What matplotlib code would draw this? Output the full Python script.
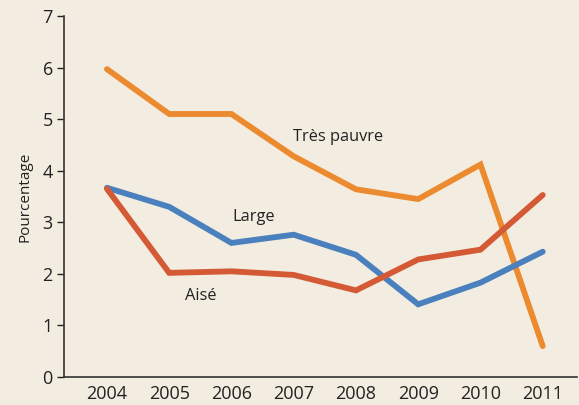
import matplotlib.pyplot as plt

years = [2004, 2005, 2006, 2007, 2008, 2009, 2010, 2011]
tres_pauvre = [5.97, 5.1, 5.1, 4.28, 3.64, 3.45, 4.12, 0.6]
large = [3.67, 3.3, 2.6, 2.76, 2.37, 1.41, 1.83, 2.43]
aise = [3.65, 2.02, 2.05, 1.98, 1.68, 2.28, 2.47, 3.53]

bg = "#f3ede1"
plt.rcParams['font.family'] = ['Open Sans', 'DejaVu Sans']

fig = plt.figure(figsize=(5.79, 4.05), dpi=100)
fig.patch.set_facecolor(bg)
ax = fig.add_axes([0.1105, 0.069, 0.886, 0.8915])
ax.set_facecolor(bg)

lw = 4.2
ax.plot(years, tres_pauvre, color="#ec8a2f", lw=lw, solid_capstyle="round", solid_joinstyle="miter")
ax.plot(years, large, color="#4a80bd", lw=lw, solid_capstyle="round", solid_joinstyle="miter")
ax.plot(years, aise, color="#d45a35", lw=lw, solid_capstyle="round", solid_joinstyle="miter")

ax.text(2006.99, 4.65, "Très pauvre", fontsize=11.8, color="#222222", ha="left", va="center")
ax.text(2006.02, 3.1, "Large", fontsize=11.8, color="#222222", ha="left", va="center")
ax.text(2005.25, 1.57, "Aisé", fontsize=11.8, color="#222222", ha="left", va="center")

ax.set_xlim(2003.31, 2011.55)
ax.set_ylim(0, 7)
ax.set_xticks(years)
ax.set_xticklabels([str(y) for y in years])
ax.set_yticks(range(8))
ax.tick_params(axis="x", length=0, labelsize=13, pad=6, colors="#222222")
ax.tick_params(axis="y", length=5, width=1, labelsize=13, pad=3, colors="#222222")
ax.set_ylabel("Pourcentage", fontsize=11, color="#222222", labelpad=7)

for s in ["top", "right"]:
    ax.spines[s].set_visible(False)
for s in ["left", "bottom"]:
    ax.spines[s].set_color("#333333")
    ax.spines[s].set_linewidth(1.2)

fig.savefig("out.png", dpi=100, facecolor=bg)
